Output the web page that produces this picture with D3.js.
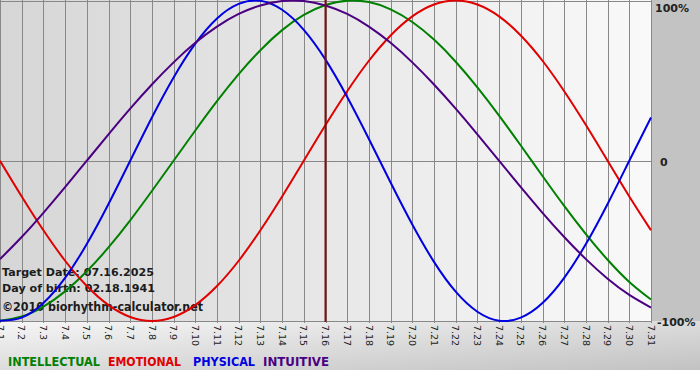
<!DOCTYPE html>
<html><head><meta charset="utf-8">
<script src="https://cdn.jsdelivr.net/npm/d3@7"></script>
<style>html,body{margin:0;padding:0;background:#fff;}svg{display:block;}</style>
</head><body>
<script>
const days = d3.range(1, 32);
const dayLabels = days.map(d => "7." + d);
const intellectual = [-0.999,-0.972,-0.910,-0.815,-0.690,-0.541,-0.372,-0.189,0,0.189,0.372,0.541,0.690,0.815,0.910,0.972,0.999,0.990,0.945,0.866,0.756,0.618,0.458,0.282,0.095,-0.095,-0.282,-0.458,-0.618,-0.756,-0.866];
const emotional = [0,-0.223,-0.434,-0.624,-0.782,-0.901,-0.975,-1,-0.975,-0.901,-0.782,-0.624,-0.434,-0.223,0,0.223,0.434,0.624,0.782,0.901,0.975,1,0.975,0.901,0.782,0.624,0.434,0.223,0,-0.223,-0.434];
const physical = [-0.998,-0.979,-0.888,-0.731,-0.520,-0.270,0,0.270,0.520,0.731,0.888,0.979,0.998,0.942,0.817,0.631,0.398,0.136,-0.136,-0.398,-0.631,-0.817,-0.942,-0.998,-0.979,-0.888,-0.731,-0.520,-0.270,0,0.270];
const intuitive = [-0.614,-0.476,-0.325,-0.165,0,0.165,0.325,0.476,0.614,0.736,0.837,0.916,0.969,0.997,0.997,0.969,0.916,0.837,0.736,0.614,0.476,0.325,0.165,0,-0.165,-0.325,-0.476,-0.614,-0.736,-0.837,-0.916];
const seriesNames = ["INTELLECTUAL","EMOTIONAL","PHYSICAL","INTUITIVE"];
const seriesColors = ["#008000","#e00000","#0000e0","#4b0082"];
const yTickLabels = ["100%","0","-100%"];
const yTickValues = [1,0,-1];
const targetDay = 16;
const infoLines = ["Target Date: 07.16.2025","Day of birth: 02.18.1941","\u00a92010 biorhythm-calculator.net"];

const W = 700, H = 380;
const svg = d3.select("body").append("svg").attr("width", W).attr("height", H);
const defs = svg.append("defs");
const g1 = defs.append("linearGradient").attr("id","plotbg").attr("x1","0").attr("x2","1").attr("y1","0").attr("y2","0");
g1.append("stop").attr("offset","0").attr("stop-color","#d6d6d6");
g1.append("stop").attr("offset","1").attr("stop-color","#f9f9f9");
const g2 = defs.append("linearGradient").attr("id","botbg").attr("x1","0").attr("x2","1").attr("y1","0").attr("y2","1");
g2.append("stop").attr("offset","0").attr("stop-color","#f6f6f6");
g2.append("stop").attr("offset","1").attr("stop-color","#c2c2c2");

const x = d3.scaleLinear().domain([1,31]).range([0,651]);
const y = d3.scaleLinear().domain([-1,1]).range([321,0.5]);

// backgrounds
svg.append("rect").attr("x",0).attr("y",321).attr("width",W).attr("height",49).attr("fill","url(#botbg)");
svg.append("rect").attr("x",651).attr("y",0).attr("width",49).attr("height",321).attr("fill","#c3c3c3");
svg.append("rect").attr("x",0).attr("y",0).attr("width",651).attr("height",321).attr("fill","url(#plotbg)");

// vertical grid
svg.append("g").selectAll("line").data(days).join("line")
  .attr("x1", d => Math.round(x(d)) + 0.5).attr("x2", d => Math.round(x(d)) + 0.5)
  .attr("y1", 0).attr("y2", 323)
  .attr("stroke", "#888").attr("stroke-width", 1);
// horizontal grid
svg.append("g").selectAll("line").data(yTickValues).join("line")
  .attr("x1", 0).attr("x2", 651)
  .attr("y1", d => Math.round(y(d)) + 0.5).attr("y2", d => Math.round(y(d)) + 0.5)
  .attr("stroke", "#888").attr("stroke-width", 1);

// x labels rotated
svg.append("g").selectAll("text").data(days).join("text")
  .attr("transform", d => `translate(${x(d)},325) rotate(90)`)
  .attr("dy", "0.35em")
  .attr("font-family", "DejaVu Sans, Verdana, sans-serif")
  .attr("font-size", 9.5)
  .attr("fill", "#222")
  .text((d,i) => dayLabels[i]);

// y labels
svg.append("g").selectAll("text").data(yTickValues).join("text")
  .attr("x", (d,i) => i === 1 ? 660 : (i === 0 ? 655 : 657))
  .attr("y", d => y(d) + (d === 1 ? 11 : 5))
  .attr("font-family", "DejaVu Sans, Verdana, sans-serif")
  .attr("font-weight", "bold")
  .attr("font-size", 11)
  .attr("fill", "#222")
  .text((d,i) => yTickLabels[i]);

// info text
const infoY = [276, 292, 311];
const infoW = [152, 153, 201];
svg.append("g").selectAll("text").data(infoLines).join("text")
  .attr("x", 2).attr("y", (d,i) => infoY[i])
  .attr("font-family", "DejaVu Sans, Verdana, sans-serif")
  .attr("font-weight", "bold")
  .attr("font-size", (d,i) => i === 2 ? 12 : 11)
  .attr("fill", "#1c1c1c")
  .attr("textLength", (d,i) => infoW[i]).attr("lengthAdjust", "spacingAndGlyphs")
  .text(d => d);

// lines
const line = d3.line().x((d,i) => x(days[i])).y(d => y(d)).curve(d3.curveNatural);
const allSeries = [intellectual, emotional, physical, intuitive];
svg.append("g").selectAll("path").data(allSeries).join("path")
  .attr("d", d => line(d))
  .attr("fill", "none")
  .attr("stroke", (d,i) => seriesColors[i])
  .attr("stroke-width", 2);

// target line
svg.append("line")
  .attr("x1", x(targetDay)).attr("x2", x(targetDay))
  .attr("y1", 0).attr("y2", 322)
  .attr("stroke", "#7a1010").attr("stroke-width", 2);

// legend
const legX = [8, 108, 193, 263];
const legW = [92, 73, 62, 66];
svg.append("g").selectAll("text").data(seriesNames).join("text")
  .attr("x", (d,i) => legX[i]).attr("y", 366)
  .attr("font-family", "DejaVu Sans, Verdana, sans-serif")
  .attr("font-weight", "bold")
  .attr("font-size", 11.5)
  .attr("fill", (d,i) => seriesColors[i])
  .attr("textLength", (d,i) => legW[i]).attr("lengthAdjust", "spacingAndGlyphs")
  .text(d => d);
</script>
</body></html>
